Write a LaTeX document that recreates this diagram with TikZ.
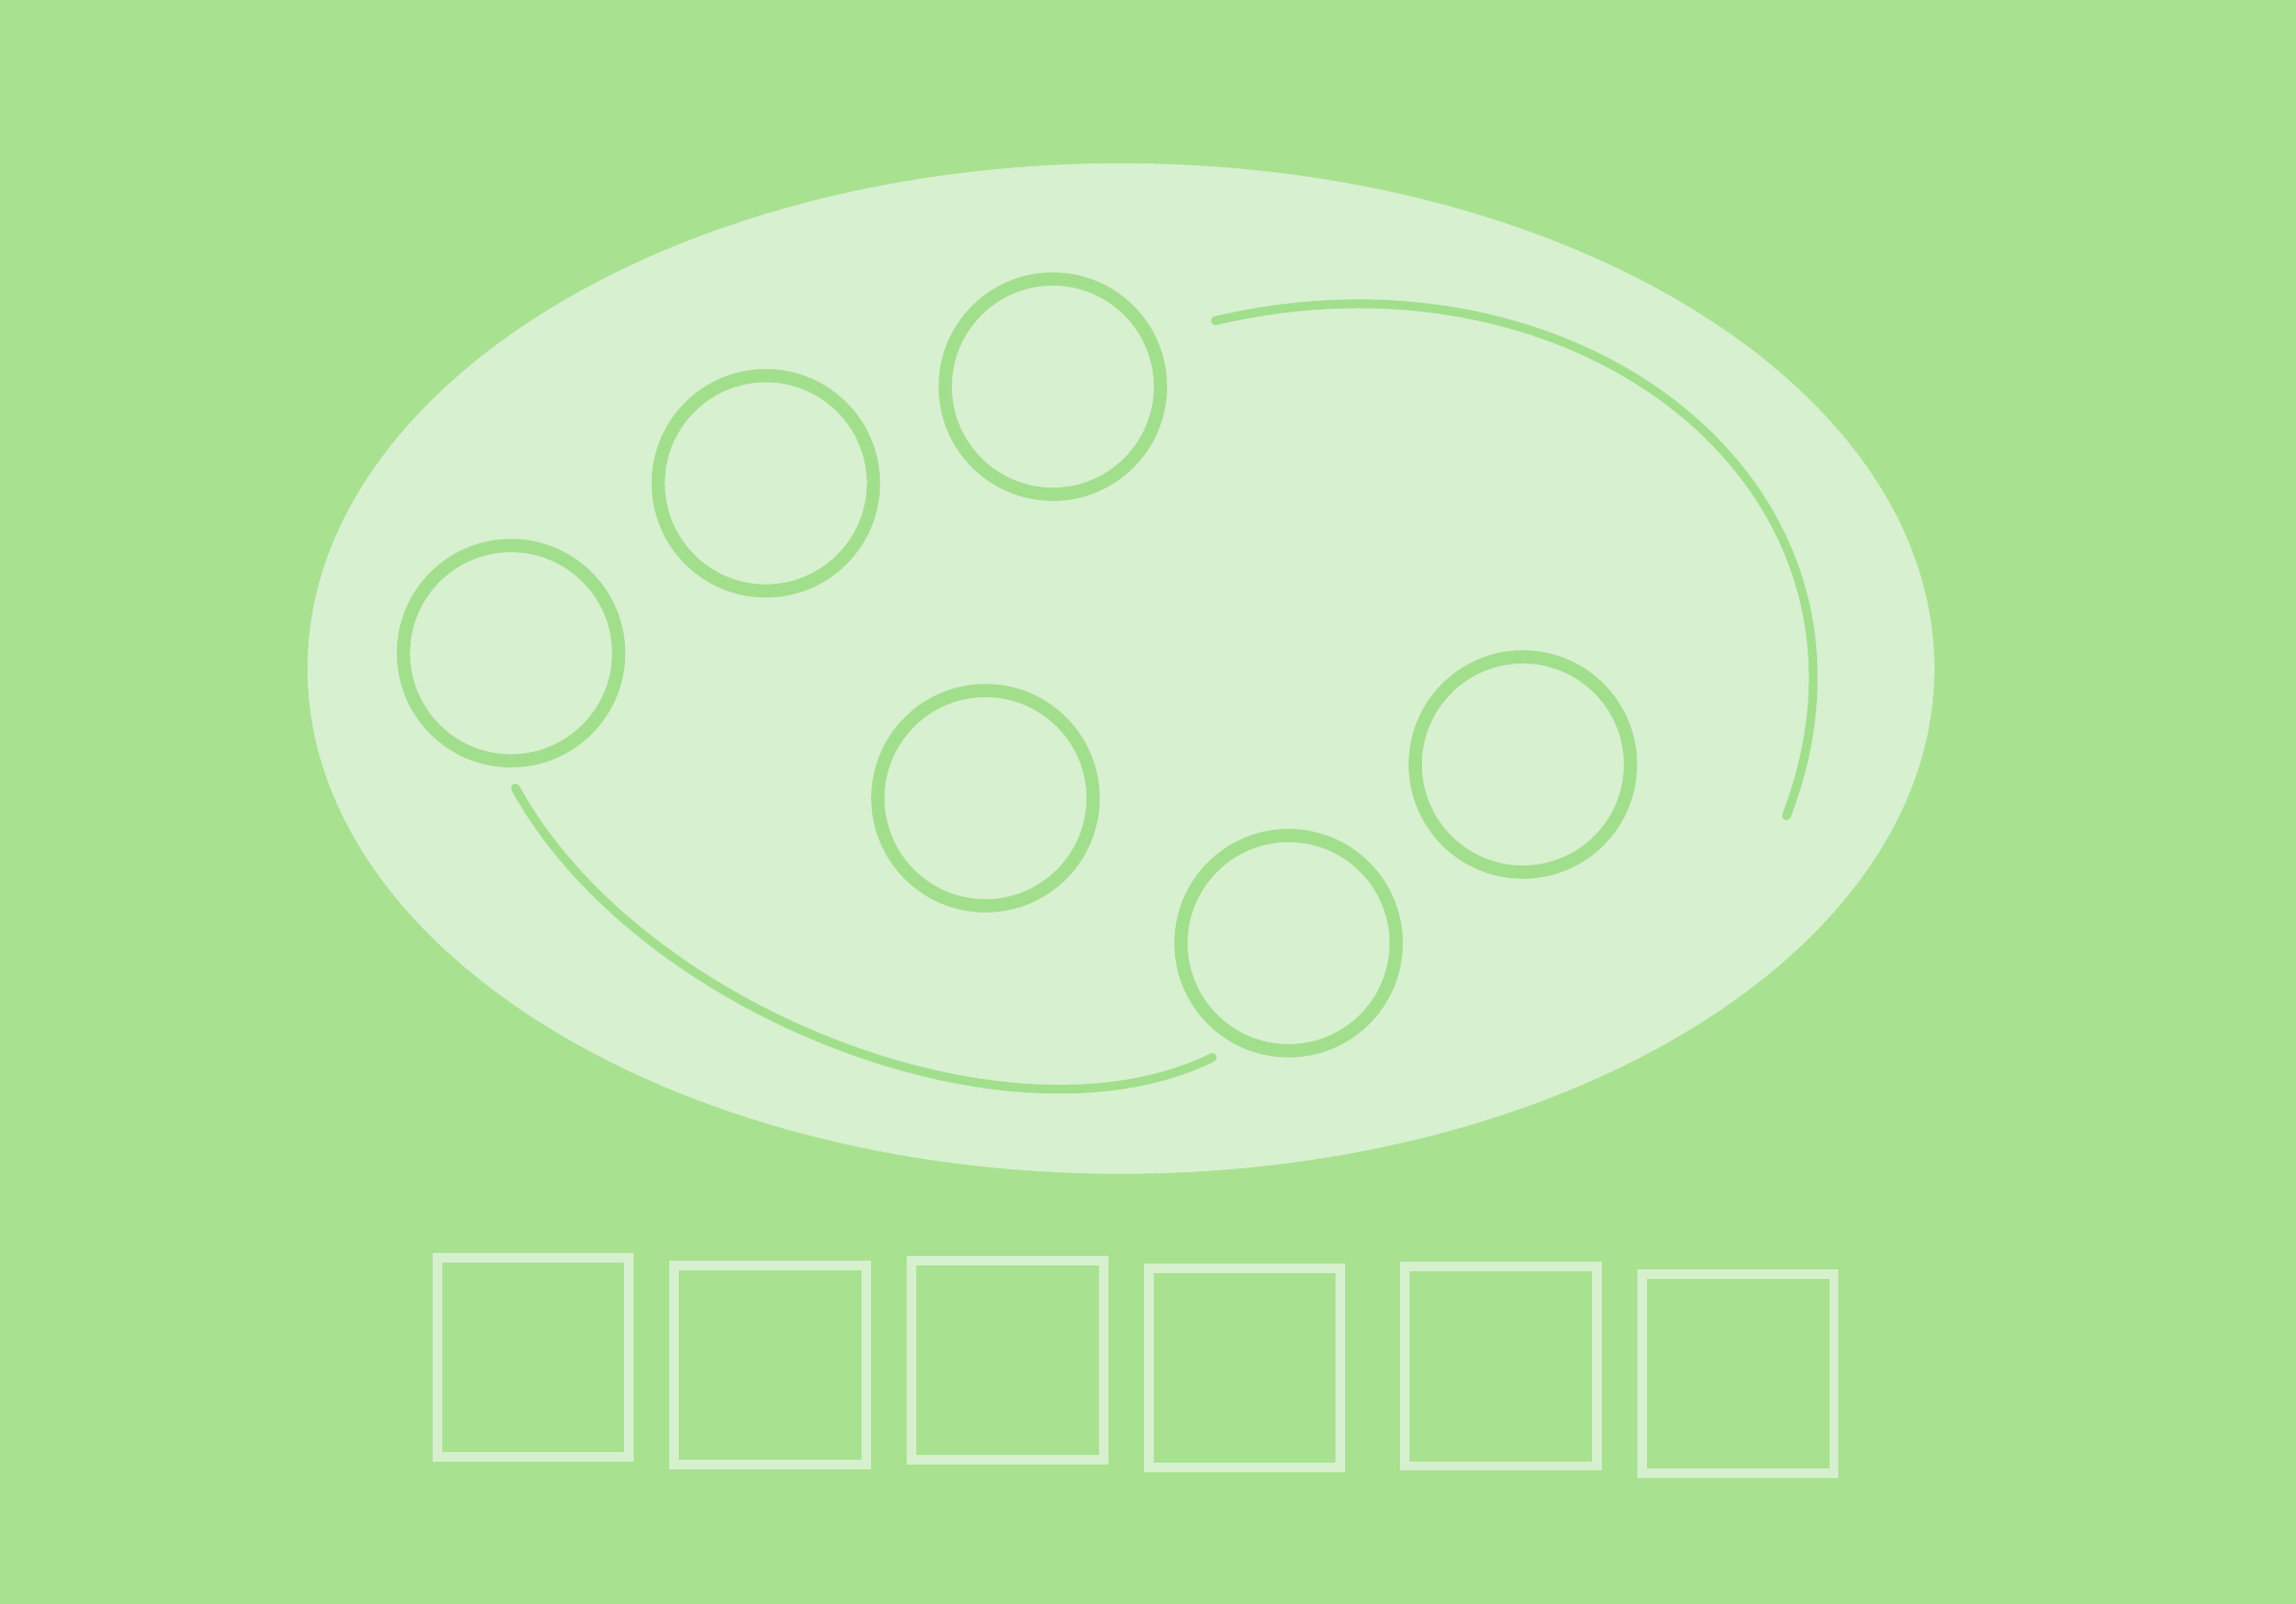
\documentclass[tikz,border=0pt]{standalone}
\usetikzlibrary{shapes.geometric}
\begin{document}
\begin{tikzpicture}[x=1pt,y=-1pt,
  ring/.style={circle,draw=ringc,line width=9pt,minimum size=147pt,inner sep=0pt},
  sq/.style={rectangle,draw=sqc,line width=6.5pt,minimum width=131pt,minimum height=136pt,inner sep=0pt},
  arc/.style={draw=ringc,line width=6pt,line cap=round}]
\definecolor{bgc}{HTML}{A8E291}
\definecolor{ellc}{HTML}{D7F0CF}
\definecolor{ringc}{HTML}{A2DF8D}
\definecolor{sqc}{HTML}{D6F0CD}
\fill[bgc] (0,0) rectangle (1568,1095);
\useasboundingbox (0,0) rectangle (1568,1095);
\node[ellipse,fill=ellc,minimum width=1111pt,minimum height=690pt,inner sep=0pt] (ell) at (765.5,456.5) {};
\node[ring] (c1) at (349,446) {};
\node[ring] (c2) at (523,330) {};
\node[ring] (c3) at (719,264) {};
\node[ring] (c4) at (673,545) {};
\node[ring] (c5) at (880,644) {};
\node[ring] (c6) at (1040,522) {};
\coordinate (a1) at (352,538);
\coordinate (a2) at (828,722);
\coordinate (b1) at (830,219);
\coordinate (b2) at (1220,557);
\draw[arc] (a1) .. controls (435,690) and (690,790) .. (a2);
\draw[arc] (b1) .. controls (1080,160) and (1305,335) .. (b2);
\node[sq] (s1) at (364,927) {};
\node[sq] (s2) at (526,932) {};
\node[sq] (s3) at (688,929) {};
\node[sq] (s4) at (850,934) {};
\node[sq] (s5) at (1025,933) {};
\node[sq] (s6) at (1187,938) {};
\end{tikzpicture}
\end{document}
